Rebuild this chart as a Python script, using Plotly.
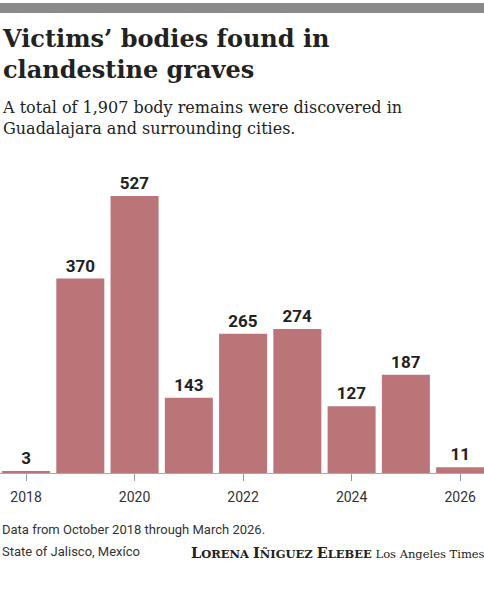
import plotly.graph_objects as go

years = [2018, 2019, 2020, 2021, 2022, 2023, 2024, 2025, 2026]
bodies = [3, 370, 527, 143, 265, 274, 127, 187, 11]
tick_years = [2018, 2020, 2022, 2024, 2026]

bar_color = '#bb7579'
sans = 'Roboto, Arial, sans-serif'
serif = 'DejaVu Serif, serif'

fig = go.Figure()

fig.add_trace(go.Bar(
    x=years,
    y=bodies,
    width=0.885,
    marker=dict(color=bar_color, line=dict(width=0)),
    text=bodies,
    textposition='outside',
    textfont=dict(family=sans, size=17, color='#222222', weight='bold'),
    cliponaxis=False,
    hoverinfo='skip',
))

fig.update_layout(
    width=484,
    height=600,
    margin=dict(l=0, r=0, t=160, b=127),
    paper_bgcolor='white',
    plot_bgcolor='white',
    showlegend=False,
    xaxis=dict(
        range=[2017.52, 2026.44],
        tickvals=tick_years,
        ticktext=[str(y) for y in tick_years],
        ticks='outside',
        ticklen=7,
        tickcolor='#999999',
        tickwidth=1,
        ticklabelstandoff=4,
        showline=True,
        linecolor='#aaaaaa',
        linewidth=1,
        showgrid=False,
        zeroline=False,
        tickfont=dict(family=sans, size=14, color='#333333'),
    ),
    yaxis=dict(
        range=[0, 595.5],
        visible=False,
        showgrid=False,
        zeroline=False,
    ),
)

# grey rule at the top
fig.add_shape(type='rect', xref='paper', yref='paper',
              x0=0, x1=1, y0=(473 - 13) / 313, y1=(473 - 3) / 313,
              fillcolor='#8a8a8a', line=dict(width=0), layer='above')

fig.add_annotation(
    xref='paper', yref='paper', x=0, y=(473 - 22) / 313,
    xanchor='left', yanchor='top', align='left', showarrow=False,
    text='Victims’ bodies found in<br>clandestine graves',
    font=dict(family=serif, size=24, color='#222222', weight='bold'),
)

fig.add_annotation(
    xref='paper', yref='paper', x=0, y=(473 - 96) / 313,
    xanchor='left', yanchor='top', align='left', showarrow=False,
    text='A total of 1,907 body remains were discovered in<br>Guadalajara and surrounding cities.',
    font=dict(family=serif, size=16, color='#222222'),
)

fig.add_annotation(
    xref='paper', yref='paper', x=0, y=(473 - 520) / 313,
    xanchor='left', yanchor='top', align='left', showarrow=False,
    text='Data from October 2018 through March 2026.',
    font=dict(family=sans, size=13, color='#333333'),
)

fig.add_annotation(
    xref='paper', yref='paper', x=0, y=(473 - 542) / 313,
    xanchor='left', yanchor='top', align='left', showarrow=False,
    text='State of Jalisco, Mexíco',
    font=dict(family=sans, size=13, color='#333333'),
)

fig.add_annotation(
    xref='paper', yref='paper', x=1, y=(473 - 542) / 313,
    xanchor='right', yanchor='top', align='right', showarrow=False,
    xshift=3,
    text=('<b><span style="font-size:14.5px">L</span>ORENA '
          '<span style="font-size:14.5px">I</span>ÑIGUEZ '
          '<span style="font-size:14.5px">E</span>LEBEE</b> '
          '<span style="font-size:11.5px">Los Angeles Times</span>'),
    font=dict(family=serif, size=11.5, color='#222222'),
)

fig.write_html('out.html',
               config={'displayModeBar': False},
               post_script="document.body.style.margin='0';document.body.style.overflow='hidden';")
